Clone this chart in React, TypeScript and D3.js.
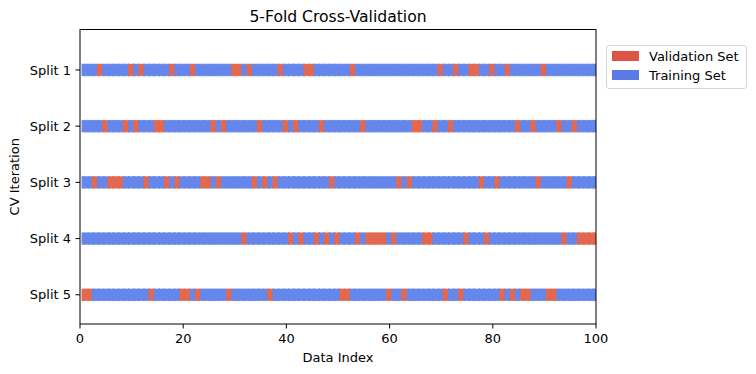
import React from "react";
import * as d3 from "d3";

const splits = ["Split 1", "Split 2", "Split 3", "Split 4", "Split 5"];
const nSamples = 100;

// validation indices per split
const split1Val = [3, 9, 11, 17, 21, 29, 30, 32, 38, 43, 44, 52, 69, 72, 75, 76, 79, 82, 89];
const split2Val = [4, 8, 10, 14, 15, 25, 27, 34, 39, 41, 46, 54, 64, 65, 68, 71, 84, 87, 92, 95];
const split3Val = [2, 5, 6, 7, 12, 16, 18, 23, 24, 26, 33, 35, 37, 48, 61, 63, 77, 80, 88, 94];
const split4Val = [31, 40, 42, 45, 47, 49, 53, 55, 56, 57, 58, 60, 66, 67, 74, 78, 93, 96, 97, 98, 99];
const split5Val = [0, 1, 13, 19, 20, 22, 28, 36, 50, 51, 59, 62, 70, 73, 81, 83, 85, 86, 90, 91];
const validation = [split1Val, split2Val, split3Val, split4Val, split5Val];

const xTicks = [0, 20, 40, 60, 80, 100];

const sizing = { width: 756, height: 374, left: 80, right: 596, top: 29.5, bottom: 324 };

const font = "DejaVu Sans, sans-serif";
const valColor = "#e2684f";
const trainColor = "#6587eb";
const valLegend = "#dc5446";
const trainLegend = "#5a7be6";

function App() {
  const x = d3.scaleLinear().domain([0, nSamples]).range([sizing.left, sizing.right]);
  const y = d3.scaleLinear().domain([0.28, 5.52]).range([sizing.top, sizing.bottom]);
  const markerH = 12.5;

  // cells drawn in order, each a bit wider so the next one covers the seam
  const cells = validation.flatMap((vals, s) => {
    const set = new Set(vals);
    return d3.range(nSamples).map((i) => (
      <rect
        key={`c${s}-${i}`}
        x={x(i + 0.3)}
        y={y(s + 1) - markerH / 2}
        width={x(i + 1.3) - x(i + 0.3) + 1}
        height={markerH}
        fill={set.has(i) ? valColor : trainColor}
      />
    ));
  });

  const rowEdges = splits.map((d, s) => (
    <g key={`e${s}`} stroke="#ffffff" strokeOpacity={0.5} strokeWidth={0.6} strokeDasharray="3,2">
      <line x1={sizing.left} x2={sizing.right} y1={y(s + 1) - markerH / 2} y2={y(s + 1) - markerH / 2} />
      <line x1={sizing.left} x2={sizing.right} y1={y(s + 1) + markerH / 2} y2={y(s + 1) + markerH / 2} />
    </g>
  ));

  return (
    <div style={{ position: "absolute", left: 0, top: 0 }}>
      <svg width={sizing.width} height={sizing.height} style={{ display: "block" }}>
        <rect width={sizing.width} height={sizing.height} fill="white" />
        <defs>
          <clipPath id="plot">
            <rect x={sizing.left} y={sizing.top} width={sizing.right - sizing.left} height={sizing.bottom - sizing.top} />
          </clipPath>
        </defs>
        <g clipPath="url(#plot)">
          {cells}
          {rowEdges}
        </g>

        {/* axes frame */}
        <rect
          x={sizing.left}
          y={sizing.top}
          width={sizing.right - sizing.left}
          height={sizing.bottom - sizing.top}
          fill="none"
          stroke="black"
          strokeWidth={1}
        />

        {/* x ticks */}
        {xTicks.map((t) => (
          <g key={`xt${t}`}>
            <line x1={x(t)} x2={x(t)} y1={sizing.bottom} y2={sizing.bottom + 4.5} stroke="black" />
            <text x={x(t)} y={sizing.bottom + 19} textAnchor="middle" fontFamily={font} fontSize={13}>
              {t}
            </text>
          </g>
        ))}

        {/* y ticks */}
        {splits.map((s, i) => (
          <g key={`yt${i}`}>
            <line x1={sizing.left - 4.5} x2={sizing.left} y1={y(i + 1)} y2={y(i + 1)} stroke="black" />
            <text
              x={sizing.left - 9}
              y={y(i + 1)}
              dy="0.35em"
              textAnchor="end"
              fontFamily={font}
              fontSize={13}
            >
              {s}
            </text>
          </g>
        ))}

        <text x={(sizing.left + sizing.right) / 2} y={362} textAnchor="middle" fontFamily={font} fontSize={13}>
          Data Index
        </text>
        <text
          transform={`translate(19,${(sizing.top + sizing.bottom) / 2}) rotate(-90)`}
          textAnchor="middle"
          fontFamily={font}
          fontSize={13}
        >
          CV Iteration
        </text>
        <text x={(sizing.left + sizing.right) / 2} y={22} textAnchor="middle" fontFamily={font} fontSize={15.6}>
          5-Fold Cross-Validation
        </text>

        {/* legend */}
        <g>
          <rect x={606.5} y={45.5} width={140} height={43} rx={2.5} fill="white" stroke="#d6d6d6" />
          <rect x={612} y={51} width={27} height={10} fill={valLegend} />
          <rect x={612} y={70} width={27} height={10} fill={trainLegend} />
          <text x={649} y={56} dy="0.35em" fontFamily={font} fontSize={13}>
            Validation Set
          </text>
          <text x={649} y={75} dy="0.35em" fontFamily={font} fontSize={13}>
            Training Set
          </text>
        </g>
      </svg>
    </div>
  );
}

export default App;
